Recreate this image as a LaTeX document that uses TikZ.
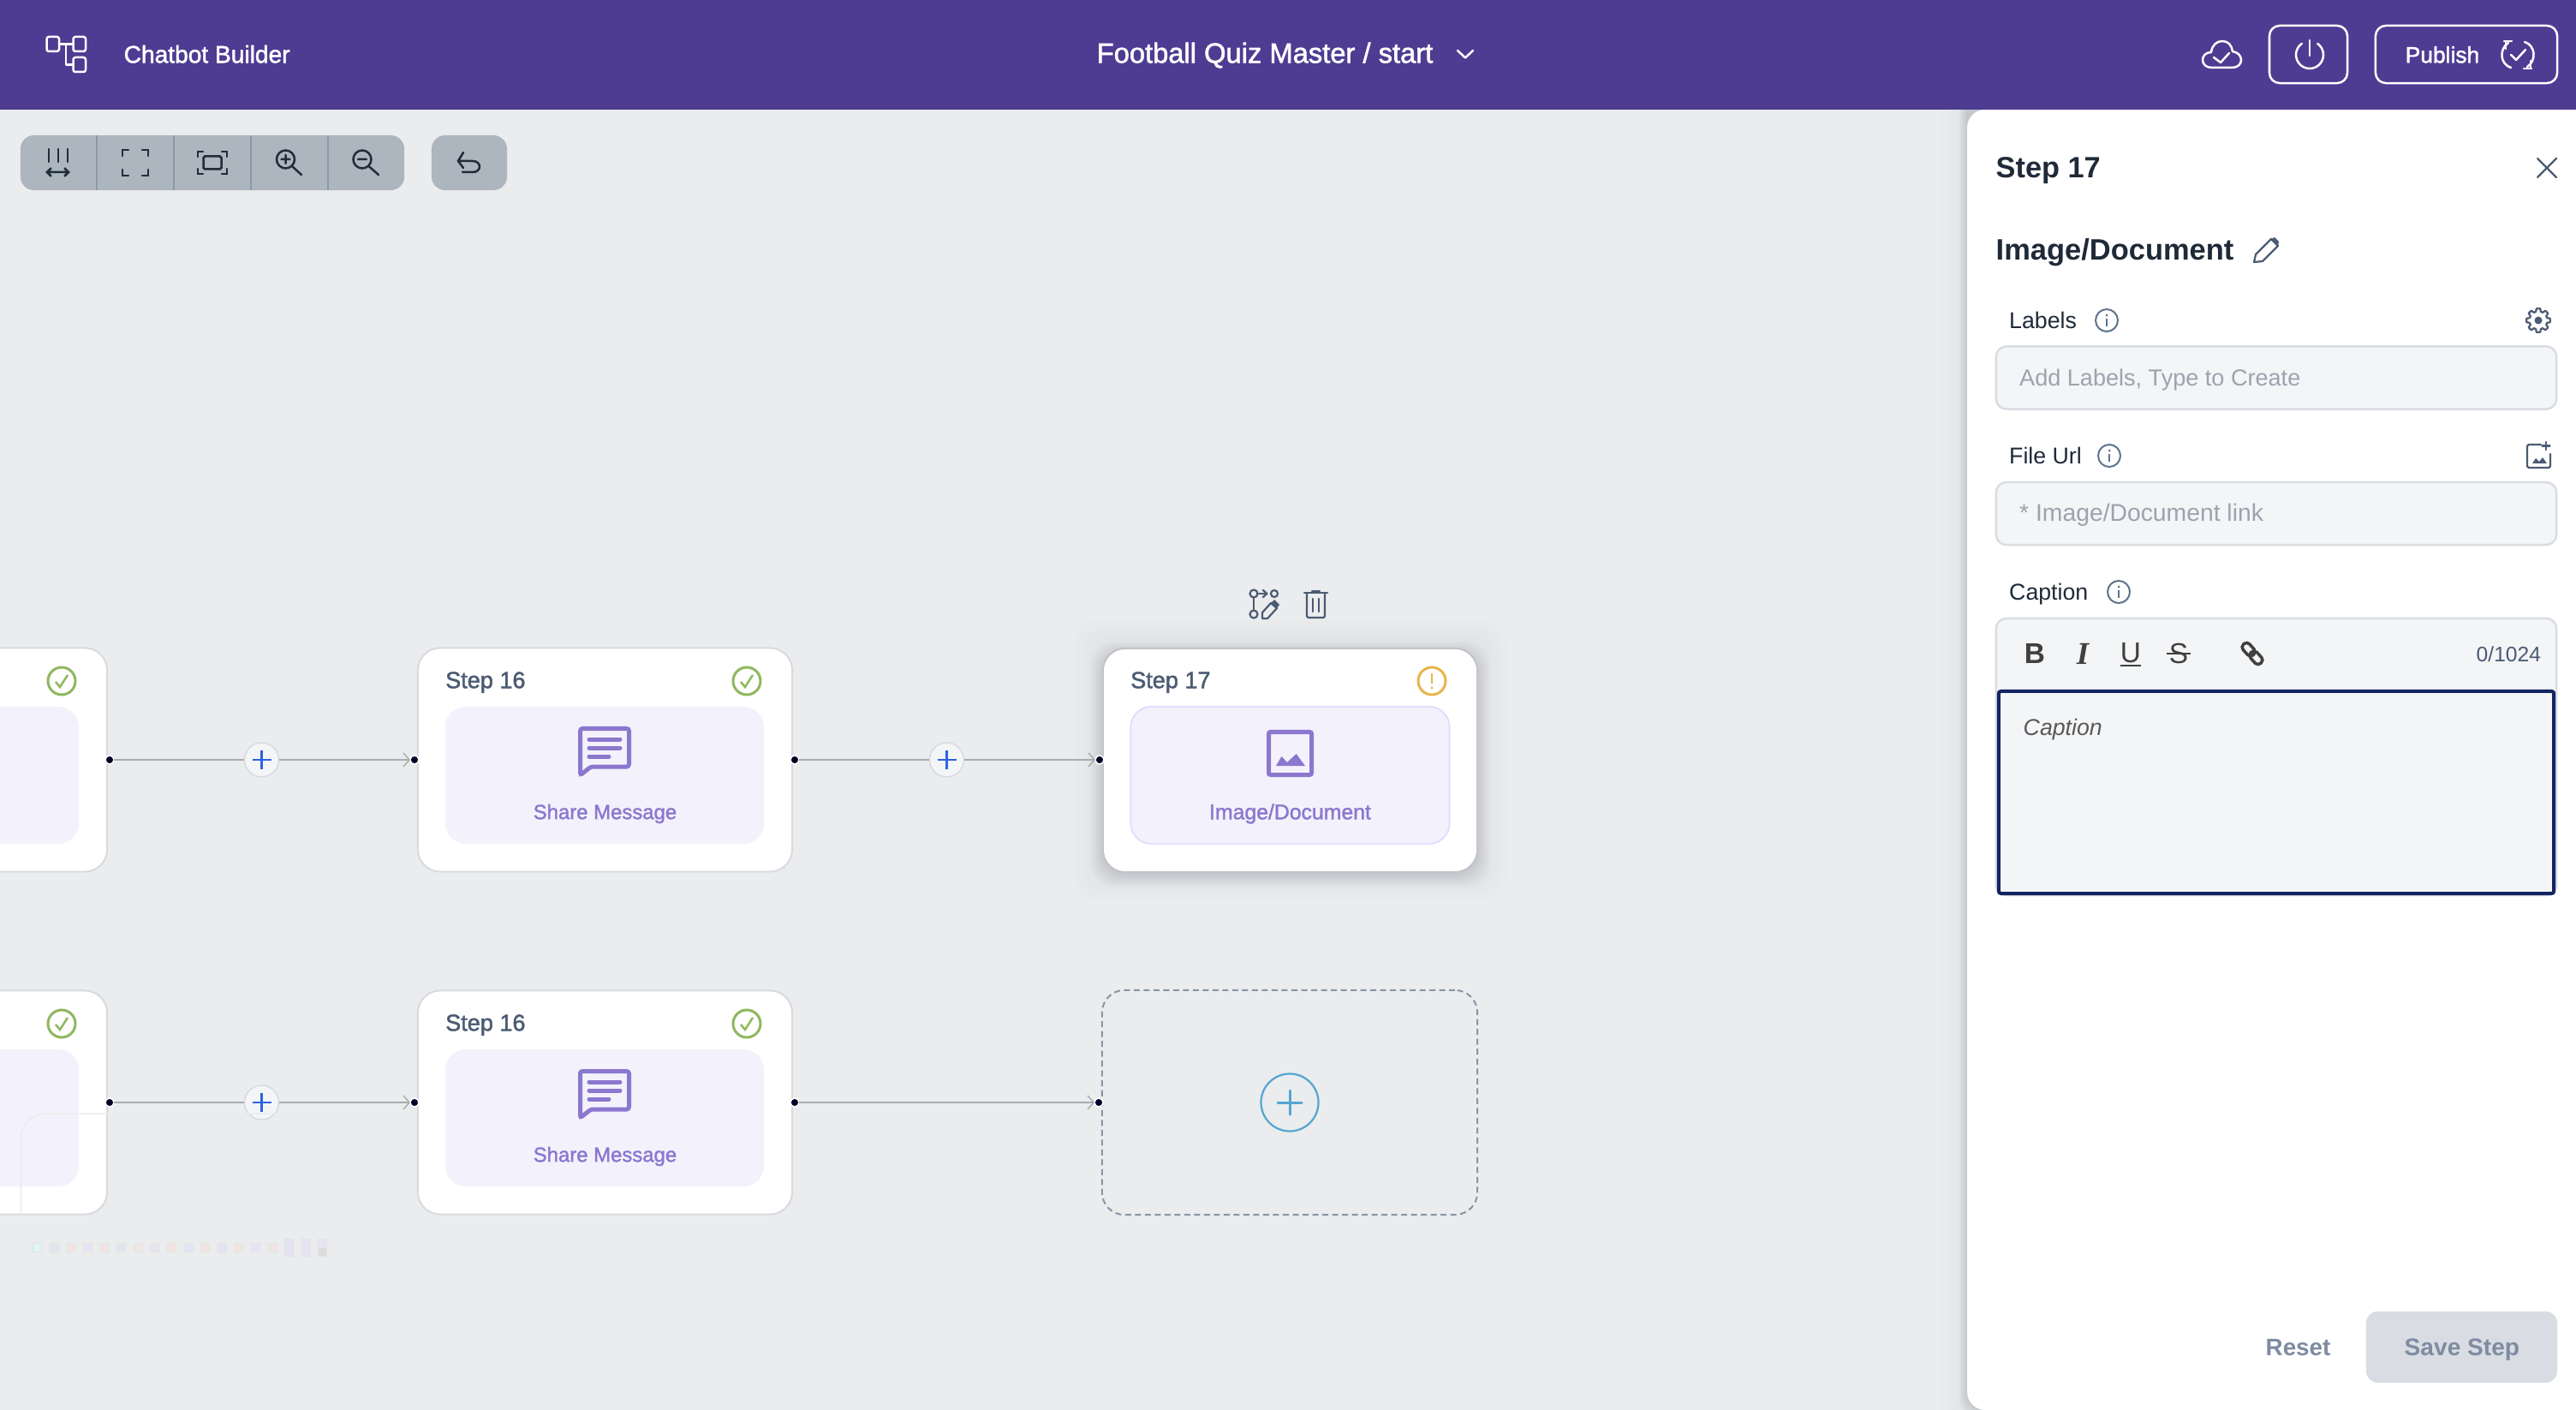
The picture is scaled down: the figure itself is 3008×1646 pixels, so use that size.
\documentclass[tikz,border=0pt]{standalone}
\usepackage{fontspec}
\setmainfont{Liberation Sans}
\newfontfamily\medfont[FakeBold=1.6]{Liberation Sans}
\newfontfamily\slabfont{Liberation Serif}
\usepackage{xcolor}
\usetikzlibrary{arrows.meta}

\definecolor{headbg}{HTML}{4D3C92}
\definecolor{canvasbg}{HTML}{EAECEE}
\definecolor{toolbg}{HTML}{ADB5BF}
\definecolor{toolsep}{HTML}{8A99AC}
\definecolor{iconink}{HTML}{1F2D3A}
\definecolor{slateink}{HTML}{4B5B73}
\definecolor{darkink}{HTML}{1E2A38}
\definecolor{purpleink}{HTML}{8B78CE}
\definecolor{innerbg}{HTML}{F3F2FC}
\definecolor{cardline}{HTML}{D8DADF}
\definecolor{flowgray}{HTML}{ABABAD}
\definecolor{plusblue}{HTML}{2D63E0}
\definecolor{okgreen}{HTML}{8FB85E}
\definecolor{warnamber}{HTML}{E9B44C}
\definecolor{addblue}{HTML}{55A5D0}
\definecolor{dashgray}{HTML}{8895A5}
\definecolor{fieldbg}{HTML}{F4F5F7}
\definecolor{fieldline}{HTML}{D9DCE1}
\definecolor{holdergray}{HTML}{9CA3AD}
\definecolor{navyline}{HTML}{14245F}
\definecolor{savebg}{HTML}{D9DCE3}
\definecolor{saveink}{HTML}{7E8CA0}
\definecolor{infoblue}{HTML}{5D7390}
\definecolor{shadowink}{HTML}{6B7585}
\definecolor{maplav}{HTML}{E7E3F4}
\definecolor{mappink}{HTML}{F2E4E3}
\definecolor{mapcyan}{HTML}{DDF6F6}
\definecolor{mapgray}{HTML}{DCDCDE}
\definecolor{mapline}{HTML}{DFE6DC}

\newcommand{\fs}[1]{\fontsize{#1}{#1}\selectfont}

% icons, all in reference pixels round a centre
\newcommand{\msgicon}[2]{
    \begin{scope}[shift={(#1,#2)}]
        \draw[purpleicon, rounded corners=0.8pt] (-28.5,-36.5) -- (28.5,-36.5) -- (28.5,8) -- (-16,8) -- (-28.5,18) -- cycle;
        \draw[purpleicon] (-18,-24) -- (18,-24) (-18,-14) -- (18,-14) (-18,-4) -- (5,-4);
    \end{scope}
}
\newcommand{\okicon}[2]{
    \begin{scope}[shift={(#1,#2)}]
        \draw[okgreen, line width=0.03cm] (0,0) circle [radius=16];
        \draw[okgreen, line width=0.025cm] (-7,1) -- (-2,7) -- (7,-7);
    \end{scope}
}
\newcommand{\infoicon}[2]{
    \begin{scope}[shift={(#1,#2)}]
        \draw[infoblue, line width=0.02cm] (0,0) circle [radius=13];
        \draw[infoblue, line width=0.02cm] (0,-2) -- (0,7);
        \fill[infoblue] (0,-6) circle [radius=1.5];
    \end{scope}
}
\newcommand{\plusmark}[2]{
    \draw[plusblue, line width=0.025cm] (#1,#2) +(-11,0) -- +(11,0) +(0,-11) -- +(0,11);
}

\begin{document}
\begin{tikzpicture}[x=0.01cm,y=-0.01cm]
    \tikzset{card/.style = {draw=cardline, fill=white, line width=0.02cm, rounded corners=7.4pt, minimum width=4.37cm, minimum height=2.61cm, inner sep=0pt, outer sep=0pt}}
    \tikzset{innerbox/.style = {fill=innerbg, rounded corners=6.8pt, minimum width=3.72cm, minimum height=1.6cm, inner sep=0pt}}
    \tikzset{port/.style = {circle, fill=black!85!blue, draw=white, line width=0.015cm, minimum size=0.1cm, inner sep=0pt, outer sep=0pt}}
    \tikzset{plusnode/.style = {circle, fill=fieldbg, draw=cardline, line width=0.015cm, minimum size=0.4cm, inner sep=0pt, outer sep=0pt}}
    \tikzset{flowedge/.style = {flowgray, line width=0.02cm}}
    \tikzset{flowarrow/.style = {flowedge, -{Straight Barb[length=0.07cm, width=0.16cm, line width=0.4pt]}}}
    \tikzset{toolicon/.style = {iconink, line width=0.025cm, line cap=round}}
    \tikzset{whiteicon/.style = {white, line width=0.025cm, line cap=round, line join=round}}
    \tikzset{slateicon/.style = {slateink, line width=0.022cm, line cap=round, line join=round}}
    \tikzset{purpleicon/.style = {purpleink, line width=0.05cm, line cap=round}}
    \tikzset{txt/.style = {anchor=mid west, inner sep=0pt}}
    \tikzset{steptxt/.style = {txt, slateink, font=\medfont\fs{7.7}}}
    \tikzset{fieldtxt/.style = {txt, darkink, font=\fs{7.6}}}
    \tikzset{holdertxt/.style = {txt, holdergray, font=\fs{7.7}}}
    \tikzset{field/.style = {draw=fieldline, fill=fieldbg, line width=0.025cm, rounded corners=3.4pt, minimum width=6.54cm, minimum height=0.73cm, inner sep=0pt}}
    \tikzset{mapcell/.style = {draw=mapline, line width=0.008cm, minimum size=0.1cm, inner sep=0pt}}

    \path[use as bounding box, clip] (0,0) rectangle (3008,1646);
    \fill[canvasbg] (0,0) rectangle (3008,1646);

    % the two rows of cards
    \foreach \row/\ry in {a/887, b/1287} {
        \node[card] (left\row) at (-93.5,\ry) {};
        \node[innerbox] (leftin\row) at (-94,\ry+18) {};
        \okicon{72}{\ry-92}
        \node[card] (card\row) at (706.5,\ry) {};
        \node[innerbox] (inner\row) at (706,\ry+18) {};
        \node[steptxt] (step\row) at (519.5,\ry-93) {Step 16};
        \okicon{872}{\ry-92}
        \msgicon{706}{\ry}
        \node[purpleink, font=\medfont\fs{6.8}, inner sep=0pt] (share\row) at (706.5,\ry+63) {Share Message};
        \node[port] (portl\row) at (128,\ry) {};
        \node[port] (portm\row) at (484,\ry) {};
        \node[port] (portr\row) at (928,\ry) {};
        \node[plusnode] (plus\row) at (305.5,\ry) {};
        \plusmark{305.5}{\ry}
        \draw[flowedge] (portl\row) -- (plus\row);
        \draw[flowarrow] (plus\row) -- (portm\row);
    }

    % selected card
    \foreach \s in {2,5,...,35}
        \fill[shadowink, opacity=0.009, rounded corners=8pt] ({1288-\s},{757-\s}) rectangle ({1725+\s},{1018+\s});
    \foreach \s in {1,3,...,15}
        \fill[shadowink, opacity=0.022, rounded corners=8pt] ({1288-\s},{764-\s}) rectangle ({1725+\s},{1021+\s});
    \node[card, draw=cardline!90!black] (cardsel) at (1506.5,887.5) {};
    \node[innerbox, draw=innerbg!92!blue, line width=0.02cm] (innersel) at (1506.5,905) {};
    \node[steptxt] (stepsel) at (1319.5,794) {Step 17};
    \draw[warnamber, line width=0.03cm] (1672,795) circle [radius=16];
    \draw[warnamber, line width=0.025cm] (1672,786) -- (1672,798);
    \fill[warnamber] (1672,803) circle [radius=1.6];
    \draw[purpleicon, rounded corners=0.6pt] (1481.5,854.5) rectangle (1531.5,904.5);
    \fill[purpleink] (1490,894) -- (1496.5,883) -- (1503,890) -- (1513.6,880) -- (1524,894) -- cycle;
    \node[purpleink, font=\medfont\fs{7.05}, inner sep=0pt] (docsel) at (1506.5,950) {Image/Document};

    % placeholder
    \node[card, fill=none, draw=dashgray, dash pattern=on 0.07cm off 0.045cm, minimum width=4.38cm, minimum height=2.62cm] (cardnew) at (1506,1287) {};
    \node[circle, draw=addblue, line width=0.022cm, minimum size=0.67cm, inner sep=0pt] (addnew) at (1506,1287) {};
    \draw[addblue, line width=0.03cm, line cap=round] (1506,1287) +(-14,0) -- +(14,0) +(0,-14) -- +(0,14);

    % connectors to the right
    \node[port] (portsel) at (1284,887) {};
    \node[port] (portnew) at (1283,1287) {};
    \node[plusnode] (plussel) at (1105.5,887) {};
    \plusmark{1105.5}{887}
    \draw[flowedge] (portra) -- (plussel);
    \draw[flowarrow] (plussel) -- (portsel);
    \draw[flowarrow] (portrb) -- (portnew);

    % actions above selected card
    \draw[slateicon] (1464,693) circle [radius=4.5] (1464,717) circle [radius=4.5] (1488,693) circle [radius=4];
    \draw[slateicon] (1464,698) -- (1464,712);
    \draw[slateicon, -{Straight Barb[length=0.05cm, width=0.09cm]}] (1470,693) -- (1481,693);
    \draw[slateicon] (1474,722) -- (1474,715) -- (1484,704) -- (1491,710) -- (1480,722) -- cycle;
    \fill[slateink] (1484,704) -- (1488,700) -- (1494,706) -- (1491,710) -- cycle;
    \draw[slateicon] (1523,692) -- (1550,692) (1532,690) -- (1541,690);
    \draw[slateicon, rounded corners=0.6pt] (1526,693) -- (1526,721) -- (1547,721) -- (1547,693);
    \draw[slateicon] (1533,699) -- (1533,714) (1540,699) -- (1540,714);

    % minimap leftovers
    \draw[canvasbg, line width=0.015cm, rounded corners=8pt] (323,1300) -- (24.5,1300) -- (24.5,1418);
    \foreach \mx/\mc [count=\mi] in {43.5/mapcyan, 63/maplav, 82.7/mappink, 102/maplav, 122/mappink, 141.5/maplav, 161/mappink, 180.6/maplav, 200/mappink, 220/maplav, 239.4/mappink, 259/maplav, 278.6/mappink, 298/maplav, 318/mappink}
        \node[mapcell, fill=\mc] (map\mi) at (\mx,1456) {};
    \foreach \mx/\my/\mc [count=\mi] in {337.4/1451/maplav, 357/1451/maplav, 376.6/1451/maplav, 337.4/1461/maplav, 357/1461/maplav, 376.6/1461/mapgray}
        \node[mapcell, fill=\mc] (grid\mi) at (\mx,\my) {};

    % toolbar
    \node[fill=toolbg, rounded corners=4.5pt, minimum width=4.48cm, minimum height=0.64cm, inner sep=0pt] (tools) at (248,190) {};
    \node[fill=toolbg, rounded corners=4.5pt, minimum width=0.88cm, minimum height=0.64cm, inner sep=0pt] (undo) at (548,190) {};
    \foreach \sx in {113,203,293,383}
        \draw[toolsep, line width=0.015cm] (\sx,158) -- (\sx,222);
    \draw[toolicon] (57,174) -- (57,189) (68,174) -- (68,189) (79,174) -- (79,189);
    \draw[toolicon] (55,201) -- (80,201) (59.5,196.5) -- (55,201) -- (59.5,205.5) (75.5,196.5) -- (80,201) -- (75.5,205.5);
    \draw[toolicon] (143,182) -- (143,175) -- (150,175) (166,175) -- (173,175) -- (173,182) (143,198) -- (143,205) -- (150,205) (166,205) -- (173,205) -- (173,198);
    \draw[toolicon] (231,183) -- (231,177) -- (237,177) (259,177) -- (265,177) -- (265,183) (231,197) -- (231,203) -- (237,203) (259,203) -- (265,203) -- (265,197);
    \draw[toolicon, rounded corners=0.5pt] (237.5,182.5) rectangle (258.5,197.5);
    \draw[toolicon] (333.5,186) circle [radius=10.5] (341,194) -- (352,204) (333.5,181) -- (333.5,191) (328.5,186) -- (338.5,186);
    \draw[toolicon] (423,186) circle [radius=10.5] (430.5,194) -- (442,204) (418,186) -- (428,186);
    \draw[toolicon] (541,178) -- (535,188) -- (541,196) (535,188) -- (552,188) .. controls (557,188) and (560,191) .. (560,194.5) .. controls (560,198) and (557,201) .. (552,201) -- (540,201);

    % side panel
    \foreach \s in {1,3,...,9}
        \fill[shadowink, opacity=0.05, rounded corners=6pt] ({2297-\s},{110}) rectangle (3100,{1646+\s});
    \foreach \s in {12,16,...,32}
        \fill[shadowink, opacity=0.008, rounded corners=6pt] ({2297-\s},{110}) rectangle (3100,{1646+\s});
    \fill[white, rounded corners=6pt] (2297,128) rectangle (3100,1646);

    % header
    \fill[headbg] (0,0) rectangle (3008,128);
    \draw[whiteicon, rounded corners=0.7pt] (54.5,43) rectangle (69,60) (85.5,43) rectangle (100,60) (85.5,67) rectangle (100,84);
    \draw[whiteicon] (69,51.5) -- (85.5,51.5) (77,51.5) -- (77,75.5) -- (85.5,75.5);
    \node[txt, white, font=\medfont\fs{8}] (brand) at (144,64) {Chatbot Builder};
    \node[txt, white, font=\medfont\fs{9.3}] (title) at (1280,64) {Football Quiz Master / start};
    \draw[whiteicon] (1702,59) -- (1711,67.5) -- (1720,59);
    \draw[whiteicon] (2583,79) .. controls (2576,79) and (2572,75) .. (2572,70) .. controls (2572,65) and (2576,61) .. (2582,61) .. controls (2583,53) and (2588,48) .. (2595,48) .. controls (2602,48) and (2606,53) .. (2607,60) .. controls (2613,61) and (2617,65) .. (2617,70) .. controls (2617,75) and (2613,79) .. (2606,79) -- cycle;
    \draw[whiteicon] (2585,67) -- (2593,73) -- (2603,62);
    \node[draw=white, line width=0.025cm, rounded corners=3.4pt, minimum width=0.91cm, minimum height=0.67cm, inner sep=0pt] (powerbtn) at (2695.5,63.5) {};
    \draw[whiteicon] (2697,64) ++(-55:16) arc (-55:235:16);
    \draw[whiteicon] (2697,47) -- (2697,65);
    \node[draw=white, line width=0.025cm, rounded corners=3.4pt, minimum width=2.12cm, minimum height=0.67cm, inner sep=0pt] (publishbtn) at (2880,63.5) {};
    \node[txt, white, font=\medfont\fs{7.5}] (publish) at (2808,64) {Publish};
    \draw[whiteicon] (2932,79) .. controls (2919,75) and (2918,57) .. (2929,50);
    \draw[whiteicon] (2948,49) .. controls (2961,53) and (2962,71) .. (2951,78);
    \draw[whiteicon] (2924,48) -- (2933,48) (2926,48) -- (2926,57);
    \draw[whiteicon] (2947,80) -- (2956,80) (2955,80) -- (2955,71);
    \draw[whiteicon] (2932,64) -- (2938,70) -- (2949,58);

    % panel head
    \draw[slateink, line width=0.022cm, line cap=round] (2963,185) -- (2985,207) (2985,185) -- (2963,207);
    \node[txt, darkink, font=\bfseries\fs{9.75}] (panelstep) at (2330,198) {Step 17};
    \node[txt, darkink, font=\bfseries\fs{9.8}] (paneltype) at (2330,294) {Image/Document};
    \draw[slateicon] (2632,306) -- (2634,297) -- (2652,279) -- (2660,287) -- (2642,305) -- cycle;
    \fill[slateink] (2652,279) -- (2656,277) -- (2661,282) -- (2660,287) -- cycle;

    % fields
    \node[fieldtxt] (labelstxt) at (2345.5,374) {Labels};
    \infoicon{2460}{374}
    \draw[slateicon] (2964,374) +(-9:14) \foreach \ga in {0,45,...,315} { -- +({\ga-9}:14) -- +({\ga+9}:14) -- +({\ga+16}:10.5) -- +({\ga+29}:10.5) } -- cycle;
    \fill[slateink] (2964,374) circle [radius=4.5];
    \node[field] (labelsbox) at (2658,441) {};
    \node[holdertxt] (labelsholder) at (2357.5,441) {Add Labels, Type to Create};

    \node[fieldtxt] (filetxt) at (2345.5,532) {File Url};
    \infoicon{2463}{532}
    \draw[slateicon, rounded corners=0.5pt] (2967,519) -- (2951,519) -- (2951,546) -- (2978,546) -- (2978,530);
    \draw[slateicon] (2973,516) -- (2973,525) (2968.5,520.5) -- (2977.5,520.5);
    \fill[slateink] (2957,541) -- (2961,535) -- (2965,539) -- (2969,534) -- (2974,541) -- cycle;
    \node[field] (filebox) at (2658,599.5) {};
    \node[holdertxt, font=\fs{8.05}] (fileholder) at (2357.5,599) {* Image/Document link};

    \node[fieldtxt] (captiontxt) at (2345.5,691) {Caption};
    \infoicon{2474}{691}
    \node[field, minimum height=3.23cm] (captionbox) at (2658,883.5) {};
    \node[draw=navyline, fill=fieldbg, line width=0.04cm, rounded corners=0.8pt, minimum width=6.48cm, minimum height=2.36cm, inner sep=0pt] (captionfocus) at (2658,925) {};
    \node[font=\bfseries\fs{9.5}, black!75, inner sep=0pt] (boldbtn) at (2376,763) {B};
    \node[font=\slabfont\bfseries\itshape\fs{10.5}, black!75, inner sep=0pt] (italicbtn) at (2432,763) {I};
    \node[font=\fs{9.5}, black!75, inner sep=0pt] (underbtn) at (2488,762) {U};
    \draw[black!75, line width=0.02cm] (2476,777) -- (2500,777);
    \node[font=\fs{9.5}, black!75, inner sep=0pt] (strikebtn) at (2544,763) {S};
    \draw[black!75, line width=0.015cm] (2530,763) -- (2558,763);
    \begin{scope}[shift={(2630,763)}, rotate=-48]
        \draw[black!75, line width=0.035cm, rounded corners=1.3pt] (-15,-5) rectangle (2,5) (-2,-5) rectangle (15,5);
    \end{scope}
    \node[txt, slateink, font=\fs{7}] (counter) at (2891,763) {0/1024};
    \node[txt, black!65, font=\itshape\fs{7.6}] (captionholder) at (2362,849) {Caption};

    % buttons
    \node[txt, saveink, font=\bfseries\fs{7.9}] (resetbtn) at (2645,1573) {Reset};
    \node[fill=savebg, rounded corners=3.8pt, minimum width=2.23cm, minimum height=0.83cm, inner sep=0pt] (savebtn) at (2874.5,1572.5) {};
    \node[txt, saveink, font=\bfseries\fs{8}] (savetxt) at (2807,1573) {Save Step};
\end{tikzpicture}
\end{document}
